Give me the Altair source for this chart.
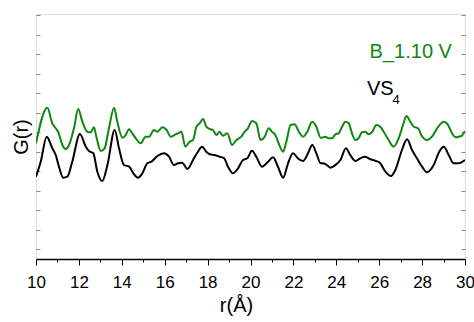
import altair as alt
import pandas as pd

# B_1.10 V (green) series
r_b = [10.0, 10.53, 10.76, 10.92, 11.03, 11.23, 11.38, 11.54, 11.77, 11.97,
       12.16, 12.39, 12.55, 12.70, 12.83, 13.02, 13.20, 13.40, 13.64, 13.79,
       14.03, 14.18, 14.34, 14.49, 14.65, 14.88, 15.11, 15.27, 15.50, 15.66,
       15.89, 16.09, 16.28, 16.51,
       16.62, 16.78, 16.96, 17.16, 17.32, 17.48, 17.63, 17.79, 17.94, 18.10,
       18.25, 18.41, 18.56, 18.72, 18.92, 19.14, 19.34, 19.57, 19.73, 19.88,
       20.07, 20.27, 20.47, 20.66, 20.85, 21.00, 21.16, 21.33, 21.52, 21.67,
       21.87, 22.06, 22.25, 22.45, 22.65, 22.87, 23.07, 23.27,
       23.33, 23.49, 23.64, 23.80, 23.96, 24.11, 24.27, 24.42, 24.58, 24.73,
       24.89, 25.04, 25.20, 25.35, 25.51, 25.66, 25.87, 26.05, 26.21, 26.44,
       26.67, 26.91, 27.11, 27.27, 27.45, 27.61, 27.81, 27.96, 28.23, 28.46,
       28.70, 29.01, 29.21, 29.39, 29.58, 29.70, 29.83, 30.0]
g_b = [115.7, 151.3, 135.7, 130.7, 127.3, 114, 110, 114, 130.7, 150,
       137.3, 127.3, 126.7, 131.7, 120.7, 108, 110.7, 130.7, 151.3, 137.3,
       121.3, 124, 129.7, 125.7, 120.7, 115.7, 122.3, 122.3, 129, 127.3,
       131.7, 129, 122.3, 124.7,
       125.7, 127.3, 112.3, 117.3, 119, 132.3, 135.7, 140, 132.3, 130,
       129, 124, 127.3, 123.3, 125.7, 114, 119, 122.3, 127.3, 130.7,
       138, 135.7, 119, 122.3, 130.7, 127.3, 124, 114.7, 107.3, 117.3,
       134, 134.7, 127.3, 122.3, 127.3, 137.3, 132.3, 121.3,
       121.3, 122.3, 120.7, 120.7, 124.7, 125.7, 132.3, 137.3, 135.7, 125.7,
       119, 120.7, 126.7, 127.3, 124.7, 126.7, 134, 132.3, 127.3, 119,
       112.3, 120.7, 134, 143, 137.3, 132.3, 130.7, 124, 119, 122.3,
       130.7, 137.3, 134, 125.7, 121.7, 122.3, 123, 128]

# VS4 (black) series
r_v = [10.0, 10.22, 10.50, 10.76, 10.92, 11.07, 11.27, 11.46, 11.69, 12.05,
       12.32, 12.47, 12.67, 12.86, 13.09, 13.33, 13.67, 13.87, 14.10, 14.34,
       14.54, 14.76, 14.96, 15.19, 15.38, 15.66, 15.97, 16.20, 16.43,
       16.62, 16.81, 17.06, 17.32, 17.55, 17.74, 17.94, 18.10, 18.33, 18.56,
       18.77, 18.95, 19.18, 19.42, 19.65, 19.85, 20.07, 20.27, 20.54, 20.82,
       21.05, 21.28, 21.52, 21.75, 21.98, 22.21, 22.45, 22.68, 22.88, 23.07, 23.27,
       23.33, 23.52, 23.72, 23.96, 24.19, 24.45, 24.65, 24.89, 25.12, 25.35,
       25.59, 25.82, 26.05, 26.29, 26.55, 26.75, 27.06, 27.30, 27.53, 27.76,
       28.00, 28.23, 28.54, 28.80, 29.01, 29.24, 29.47, 29.70, 30.0]
g_v = [82.3, 97.3, 122.3, 110.7, 104, 92.3, 81.3, 82.3, 97.3, 125,
       112.3, 108, 105.7, 87.3, 78, 94, 129, 110.7, 94, 92.3,
       85.7, 81.3, 85.7, 95.7, 97.3, 103, 105.7, 102.3, 94,
       95.7, 96.3, 90, 99, 107.3, 112.3, 107.3, 104.7, 104, 102.3,
       100.7, 92.3, 85.7, 90.7, 99, 100.7, 108.3, 102.3, 92.3, 97.3,
       101.7, 92.3, 81.3, 95.7, 105.7, 100.7, 98, 105.7, 114, 105.7, 95.7,
       95.7, 94.7, 91.3, 94, 99, 110.7, 104, 98, 100.7, 102.3,
       99.7, 98.3, 95.7, 87.3, 83, 89, 109, 119.7, 109, 100.7,
       92.3, 86.7, 94, 107.3, 112.3, 104, 95.7, 95.7, 99]

series_names = ["B_1.10 V", "VS4"]
series_colors = ["#0f870f", "#000000"]

# annotation texts (label, main text, subscript)
label_text = ["B_1.10 V", "VS", "4"]
label_r = [29.39, 25.43, 26.62]
label_g = [207, 164, 155]

df = pd.concat([
    pd.DataFrame({"r": r_b, "G": g_b, "series": series_names[0]}),
    pd.DataFrame({"r": r_v, "G": g_v, "series": series_names[1]}),
])
ann = pd.DataFrame({"r": label_r, "G": label_g, "t": label_text})

x_ticks = list(range(10, 31))
y_ticks = [10 + 19.5 * k for k in range(13)]
FONT = "Liberation Sans"

xscale = alt.Scale(domain=[10, 30], nice=False, zero=False)
yscale = alt.Scale(domain=[0, 245], nice=False, zero=False)

x_axis = alt.Axis(
    values=x_ticks,
    labelExpr="datum.value % 2 === 0 ? datum.label : ''",
    tickSize={"expr": "datum.value % 2 === 0 ? 6 : 3"},
    title="r(Å)", titleX=200, titleAlign="center",
    labelFontSize=17, titleFontSize=20, labelPadding=9, titlePadding=5,
    grid=False, domainColor="black", tickColor="black", domainWidth=1.5,
    labelColor="black", titleColor="black", labelFont=FONT, titleFont=FONT,
    titleFontWeight="normal", labelFlush=False)

X = alt.X("r:Q", scale=xscale, axis=x_axis)

lines = alt.Chart(df).mark_line(strokeWidth=2, interpolate="monotone", clip=True).encode(
    x=X,
    y=alt.Y("G:Q", scale=yscale, axis=alt.Axis(
        orient="left", values=y_ticks, labels=False, tickSize=4, offset=-4,
        domain=False, tickColor="#888888", grid=False, title="G(r)",
        titleFontSize=20, titleFont=FONT, titleColor="black",
        titleFontWeight="normal", titlePadding=4)),
    color=alt.Color("series:N", scale=alt.Scale(domain=series_names, range=series_colors), legend=None),
)

right = alt.Chart(df).mark_line(strokeOpacity=0).encode(
    x=X,
    y=alt.Y("G:Q", scale=yscale, axis=alt.Axis(
        orient="right", values=y_ticks, labels=False, tickSize=4, offset=-4,
        domain=False, tickColor="#888888", grid=False, title=None)),
)

def label(i, size, align, baseline, color):
    return alt.Chart(ann.iloc[[i]]).mark_text(
        align=align, baseline=baseline, fontSize=size, font=FONT, color=color
    ).encode(
        x=X,
        y=alt.Y("G:Q", scale=yscale, axis=None),
        text="t:N",
    )

lbl_b = label(0, 20, "right", "middle", series_colors[0])
lbl_vs = label(1, 20, "left", "alphabetic", "black")
lbl_4 = label(2, 13, "left", "alphabetic", "black")

chart = alt.layer(lines, right, lbl_b, lbl_vs, lbl_4).resolve_axis(y="independent").properties(
    width=429, height=245,
    autosize=alt.AutoSizeParams(type="none"),
    padding={"left": 36, "top": 14, "right": 9, "bottom": 63},
).configure_view(stroke="black", strokeWidth=1.5).configure(background="white")

chart.save("out.html", embed_options={"renderer": "svg", "actions": False})
